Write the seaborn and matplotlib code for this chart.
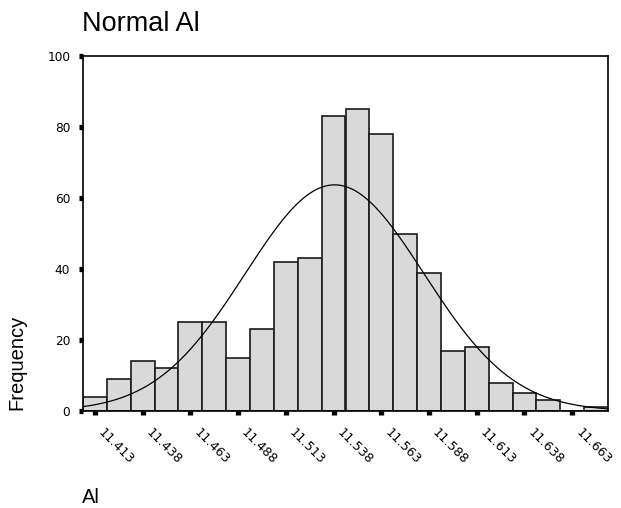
import numpy as np
import pandas as pd
import matplotlib
matplotlib.use("Agg")
import matplotlib.pyplot as plt
from matplotlib.transforms import ScaledTranslation
import seaborn as sns

# Binned Al measurements: bin centres and frequencies
bin_width = 0.0125
bin_centers = [11.413 + bin_width * k for k in range(22)]
frequencies = [4, 9, 14, 12, 25, 25, 15, 23, 42, 43, 83,
               85, 78, 50, 39, 17, 18, 8, 5, 3, 0, 1]
tick_centers = bin_centers[::2]
tick_labels = [f"{c:.3f}" for c in tick_centers]
y_ticks = [0, 20, 40, 60, 80, 100]

sns.set_theme(style="white")
plt.rcParams["font.family"] = ["Liberation Sans", "DejaVu Sans"]

fig = plt.figure(figsize=(6.21, 5.08), dpi=100)
W, H = 621, 508
ax = fig.add_axes([83 / W, 1 - 411 / H, (608 - 83) / W, (411 - 56) / H])

df = pd.DataFrame({"Al": bin_centers, "count": frequencies})
lo = bin_centers[0] - bin_width / 2
hi = bin_centers[-1] + bin_width / 2
sns.histplot(data=df, x="Al", weights="count", bins=len(bin_centers),
             binrange=(lo, hi), ax=ax,
             color="#d9d9d9", edgecolor="#1a1a1a", linewidth=1.2,
             alpha=1.0, stat="count")

# Normal curve fitted to the binned data
c = np.array(bin_centers)
f = np.array(frequencies, dtype=float)
n = f.sum()
mu = (c * f).sum() / n
sd = np.sqrt(((c - mu) ** 2 * f).sum() / (n - 1))
xs = np.linspace(lo, hi, 400)
ys = n * bin_width * np.exp(-0.5 * ((xs - mu) / sd) ** 2) / (sd * np.sqrt(2 * np.pi))
sns.lineplot(x=xs, y=ys, ax=ax, color="black", linewidth=0.9)

tick_font = {"family": ["DejaVu Sans"], "size": 8.7}
x_tick_font = {"family": ["DejaVu Sans"], "size": 9.2}
ax.set_xlim(lo, hi)
ax.set_ylim(0, 100)
ax.set_yticks(y_ticks)
ax.set_yticklabels([str(v) for v in y_ticks], fontdict=tick_font)
ax.set_xticks(tick_centers)
ax.set_xticklabels(tick_labels, fontdict=x_tick_font, rotation=-45,
                   ha="left", va="top", rotation_mode="anchor")
ax.set_xlabel("")
ax.set_ylabel("")

for s in ax.spines.values():
    s.set_visible(True)
    s.set_color("black")
    s.set_linewidth(1.2)

ax.tick_params(axis="both", bottom=True, left=True, direction="out",
               length=3.2, width=3.8, color="black", labelcolor="black")
ax.tick_params(axis="y", pad=6)
ax.tick_params(axis="x", pad=6)

off = ScaledTranslation(10 / 100, -2 / 100, fig.dpi_scale_trans)
for lab in ax.get_xticklabels():
    lab.set_transform(lab.get_transform() + off)

fig.text(82 / W, 1 - 31 / H, "Normal Al", fontsize=19.5, va="baseline",
         ha="left", color="black")
fig.text(7 / W, 1 - 410 / H, "Frequency", fontsize=14.5, rotation=90,
         ha="left", va="bottom", color="black")
fig.text(82 / W, 1 - 503 / H, "Al", fontsize=14.5, ha="left",
         va="baseline", color="black")

fig.savefig("out.png", dpi=100)
